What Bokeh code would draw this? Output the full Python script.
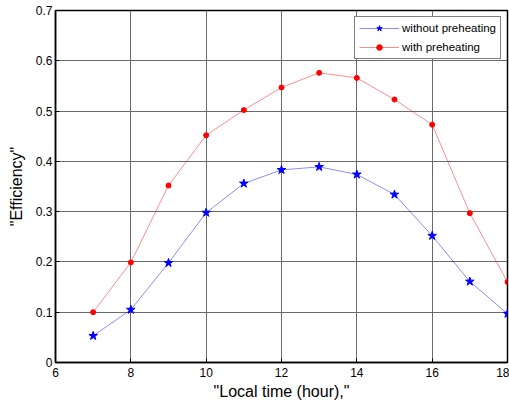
from bokeh.plotting import figure
from bokeh.models import Range1d, FixedTicker, Legend, LegendItem
from bokeh.embed import file_html
from bokeh.resources import INLINE

hours = [7, 8, 9, 10, 11, 12, 13, 14, 15, 16, 17, 18]
without_preheating = [0.053, 0.105, 0.198, 0.298, 0.356, 0.383, 0.389, 0.374, 0.334, 0.252, 0.161, 0.097]
with_preheating = [0.100, 0.199, 0.352, 0.452, 0.502, 0.547, 0.576, 0.566, 0.523, 0.473, 0.297, 0.160]
x_ticks = [6, 8, 10, 12, 14, 16, 18]
y_ticks = [0, 0.1, 0.2, 0.3, 0.4, 0.5, 0.6, 0.7]
y_tick_labels = ["0", "0.1", "0.2", "0.3", "0.4", "0.5", "0.6", "0.7"]

FONT = "Liberation Sans"

p = figure(width=509, height=402, output_backend="svg", toolbar_location=None,
           x_range=Range1d(6, 18), y_range=Range1d(0, 0.7),
           min_border_left=55, min_border_right=2, min_border_top=10, min_border_bottom=40)
p.background_fill_color = "white"
p.border_fill_color = "white"
p.outline_line_color = "black"
p.outline_line_width = 1.5
p.outline_line_alpha = 1

for ax in (p.xaxis[0], p.yaxis[0]):
    ax.axis_line_color = "black"
    ax.axis_line_width = 1.5
    ax.major_tick_in = 4
    ax.major_tick_out = 0
    ax.minor_tick_in = 0
    ax.minor_tick_out = 0
    ax.major_tick_line_color = "black"
    ax.major_label_text_font = FONT
    ax.major_label_text_font_size = "12px"
    ax.major_label_text_color = "black"
    ax.axis_label_text_font = FONT
    ax.axis_label_text_font_size = "16px"
    ax.axis_label_text_font_style = "normal"
    ax.axis_label_text_color = "black"

p.xaxis.ticker = FixedTicker(ticks=x_ticks)
p.yaxis.ticker = FixedTicker(ticks=y_ticks)
p.yaxis.major_label_overrides = {t: l for t, l in zip(y_ticks, y_tick_labels)}
p.xaxis.axis_label = '"Local time (hour),"'
p.yaxis.axis_label = '"Efficiency"'
p.xaxis.major_label_standoff = 5
p.xaxis.axis_label_standoff = 3
p.yaxis.major_label_standoff = 3
p.yaxis.axis_label_standoff = 8

p.grid.grid_line_color = "#6a6a6a"
p.grid.grid_line_alpha = 1
p.grid.grid_line_width = 1

l1 = p.line(hours, without_preheating, line_color="blue", line_alpha=0.45, line_width=1)
m1 = p.scatter(hours, without_preheating, marker="star", size=9, fill_color="blue", line_color="blue")
l2 = p.line(hours, with_preheating, line_color="red", line_alpha=0.45, line_width=1)
m2 = p.scatter(hours, with_preheating, marker="circle", size=5, fill_color="red", line_color="red")

legend = Legend(items=[LegendItem(label="without preheating", renderers=[l1, m1]),
                       LegendItem(label="with preheating", renderers=[l2, m2])],
                location="top_right", margin=6, padding=4, spacing=5,
                glyph_width=40, glyph_height=14, label_height=14, label_standoff=3,
                label_text_font=FONT, label_text_font_size="11.5px", label_text_color="black",
                border_line_color="black", border_line_width=1, background_fill_color="white",
                background_fill_alpha=1)
p.add_layout(legend)

open("out.html", "w").write(file_html(p, INLINE))
